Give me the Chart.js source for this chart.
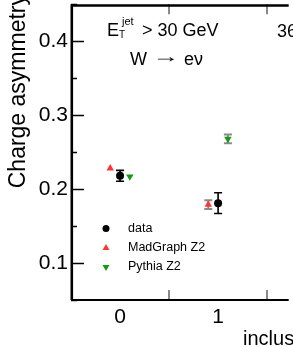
<!DOCTYPE html>
<html>
<head>
<meta charset="utf-8">
<script src="https://cdn.jsdelivr.net/npm/chart.js@4"></script>
<style>
  html, body { margin: 0; padding: 0; background: #fff; overflow: hidden; }
  canvas { display: block; }
</style>
</head>
<body>
<canvas id="canvasAsym" width="293" height="347"></canvas>
<script>
// data
// =================================

// inclusive jet multiplicity bins
const categories = [0, 1];
const dataValues = [0.218, 0.181];
const dataErrors = [0.0073, 0.0140];
const madgraphValues = [0.228, 0.179];
const madgraphErrors = [0, 0.006];
const pythiaValues = [0.217, 0.268];
const pythiaErrors = [0, 0.006];
const yTickLabels = [0.1, 0.2, 0.3, 0.4];

const FONT = '"Liberation Sans", Arial, Helvetica, sans-serif';
const RED = '#ff3535';
const GREEN = '#169a16';
const SHIFT = 0.1; // MC points sit a bit left/right of the data

function toPoints(values, shift) {
  return categories.map((c, i) => ({ x: c + shift, y: values[i] }));
}

// error bars under the markers
const errorBars = {
  id: 'errorBars',
  beforeDatasetsDraw(chart) {
    const ctx = chart.ctx;
    const y = chart.scales.y;
    chart.data.datasets.forEach((ds, i) => {
      const meta = chart.getDatasetMeta(i);
      meta.data.forEach((pt, j) => {
        const e = ds.errors[j];
        if (!e) return;
        const top = y.getPixelForValue(ds.data[j].y + e);
        const bot = y.getPixelForValue(ds.data[j].y - e);
        ctx.save();
        ctx.strokeStyle = ds.errorColor;
        ctx.lineWidth = ds.errorWidth;
        ctx.beginPath();
        ctx.moveTo(pt.x, top); ctx.lineTo(pt.x, bot);
        ctx.moveTo(pt.x - 4, top); ctx.lineTo(pt.x + 4, top);
        ctx.moveTo(pt.x - 4, bot); ctx.lineTo(pt.x + 4, bot);
        ctx.stroke();
        ctx.restore();
      });
    });
  }
};

function marker(ctx, style, color, x, y, r) {
  ctx.fillStyle = color;
  ctx.beginPath();
  if (style === 'circle') {
    ctx.arc(x, y, r, 0, Math.PI * 2);
  } else {
    const s = style === 'down' ? -1 : 1;
    ctx.moveTo(x, y - s * r);
    ctx.lineTo(x + r * 0.866, y + s * r / 2);
    ctx.lineTo(x - r * 0.866, y + s * r / 2);
    ctx.closePath();
  }
  ctx.fill();
}

// frame, inward ticks, texts, legend
const decorations = {
  id: 'decorations',
  afterDraw(chart) {
    const ctx = chart.ctx;
    const a = chart.chartArea;
    const xs = chart.scales.x;
    const ys = chart.scales.y;
    ctx.save();

    // y ticks (inside)
    ctx.strokeStyle = '#000';
    ctx.lineWidth = 1.5;
    ys.ticks.forEach(t => {
      const py = Math.round(ys.getPixelForValue(t.value)) + 0.5;
      const major = yTickLabels.some(v => Math.abs(v - t.value) < 1e-6);
      ctx.beginPath();
      ctx.moveTo(a.left, py);
      ctx.lineTo(a.left + (major ? 13 : 6), py);
      ctx.stroke();
    });

    // x bin edges (inside, top and bottom)
    ctx.strokeStyle = '#8a8a8a';
    ctx.lineWidth = 2;
    categories.forEach(c => {
      const px = Math.round(xs.getPixelForValue(c + 0.5));
      ctx.beginPath();
      ctx.moveTo(px, a.bottom); ctx.lineTo(px, a.bottom - 10);
      ctx.moveTo(px, a.top); ctx.lineTo(px, a.top + 10);
      ctx.stroke();
    });

    // frame
    ctx.strokeStyle = '#000';
    ctx.lineWidth = 2.6;
    ctx.beginPath();
    ctx.moveTo(a.left, a.top + 1.2); ctx.lineTo(a.right, a.top + 1.2);
    ctx.moveTo(a.left + 0.8, a.top); ctx.lineTo(a.left + 0.8, a.bottom);
    ctx.stroke();
    ctx.lineWidth = 2;
    ctx.beginPath();
    ctx.moveTo(a.left, a.bottom); ctx.lineTo(a.right, a.bottom);
    ctx.stroke();

    // texts
    ctx.fillStyle = '#000';
    ctx.textBaseline = 'alphabetic';
    ctx.textAlign = 'left';
    ctx.font = '18px ' + FONT;
    ctx.fillText('E', 107, 36);
    ctx.font = '10px ' + FONT;
    ctx.fillText('T', 119, 38);
    ctx.font = '11px ' + FONT;
    ctx.fillText('jet', 122, 25);
    ctx.font = '18px ' + FONT;
    ctx.fillText('> 30 GeV', 142, 36);
    ctx.fillText('W', 130, 65);
    ctx.fillText('e\u03bd', 184, 65);
    ctx.fillText('36 pb\u207b\u00b9', 277, 37);

    // long thin arrow: stretch the glyph to the reference width
    const arrowW = ctx.measureText('\u2192').width;
    ctx.save();
    ctx.translate(152, 62);
    ctx.scale(27 / arrowW, 1);
    ctx.fillText('\u2192', 0, 0);
    ctx.restore();

    ctx.font = '20px ' + FONT;
    ctx.fillText('inclusive jet multiplicity', 243, 345);

    ctx.save();
    ctx.translate(25, -6);
    ctx.rotate(-Math.PI / 2);
    ctx.textAlign = 'right';
    ctx.font = '23px ' + FONT;
    ctx.fillText('Charge asymmetry', 0, 0);
    ctx.restore();

    // legend
    const rows = [
      ['data', 'circle', '#000', 228.5],
      ['MadGraph Z2', 'up', RED, 248],
      ['Pythia Z2', 'down', GREEN, 267]
    ];
    ctx.font = '12.5px ' + FONT;
    ctx.textBaseline = 'middle';
    rows.forEach(r => {
      marker(ctx, r[1], r[2], 106, r[3], r[1] === 'circle' ? 3.5 : 4);
      ctx.fillStyle = '#000';
      ctx.fillText(r[0], 128, r[3]);
    });

    ctx.restore();
  }
};

function chartAsym() {
  const ctx = document.getElementById('canvasAsym').getContext('2d');
  return new Chart(ctx, {
    type: 'scatter',
    data: {
      datasets: [
        {
          label: 'data',
          data: toPoints(dataValues, 0),
          errors: dataErrors,
          errorColor: '#000',
          errorWidth: 1.6,
          pointStyle: 'circle',
          pointRadius: 4,
          backgroundColor: '#000',
          borderWidth: 0
        },
        {
          label: 'MadGraph Z2',
          data: toPoints(madgraphValues, -SHIFT),
          errors: madgraphErrors,
          errorColor: '#8a8a8a',
          errorWidth: 2,
          pointStyle: 'triangle',
          pointRadius: 4.3,
          backgroundColor: RED,
          borderWidth: 0
        },
        {
          label: 'Pythia Z2',
          data: toPoints(pythiaValues, SHIFT),
          errors: pythiaErrors,
          errorColor: '#8a8a8a',
          errorWidth: 2,
          pointStyle: 'triangle',
          rotation: 180,
          pointRadius: 4.3,
          backgroundColor: GREEN,
          borderWidth: 0
        }
      ]
    },
    options: {
      responsive: false,
      animation: false,
      layout: { padding: 0 },
      plugins: { legend: { display: false }, tooltip: { enabled: false } },
      scales: {
        x: {
          type: 'linear',
          min: -0.5,
          max: 1.72,
          grid: { display: false },
          border: { display: false },
          afterBuildTicks: s => { s.ticks = categories.map(v => ({ value: v })); },
          afterFit: s => { s.height = 47; s.paddingLeft = 0; s.paddingRight = 0; },
          ticks: {
            padding: -3,
            color: '#000',
            font: { family: FONT, size: 21 },
            callback: v => String(v)
          }
        },
        y: {
          min: 0.05,
          max: 0.45,
          grid: { display: false, drawTicks: false },
          border: { display: false },
          afterFit: s => { s.width = 71; s.paddingTop = 0; s.paddingBottom = 0; },
          ticks: {
            stepSize: 0.05,
            padding: 3,
            color: '#000',
            font: { family: FONT, size: 21 },
            callback: v => yTickLabels.some(t => Math.abs(t - v) < 1e-6) ? v.toFixed(1) : ''
          }
        }
      }
    },
    plugins: [errorBars, decorations]
  });
}

chartAsym();
</script>
</body>
</html>
